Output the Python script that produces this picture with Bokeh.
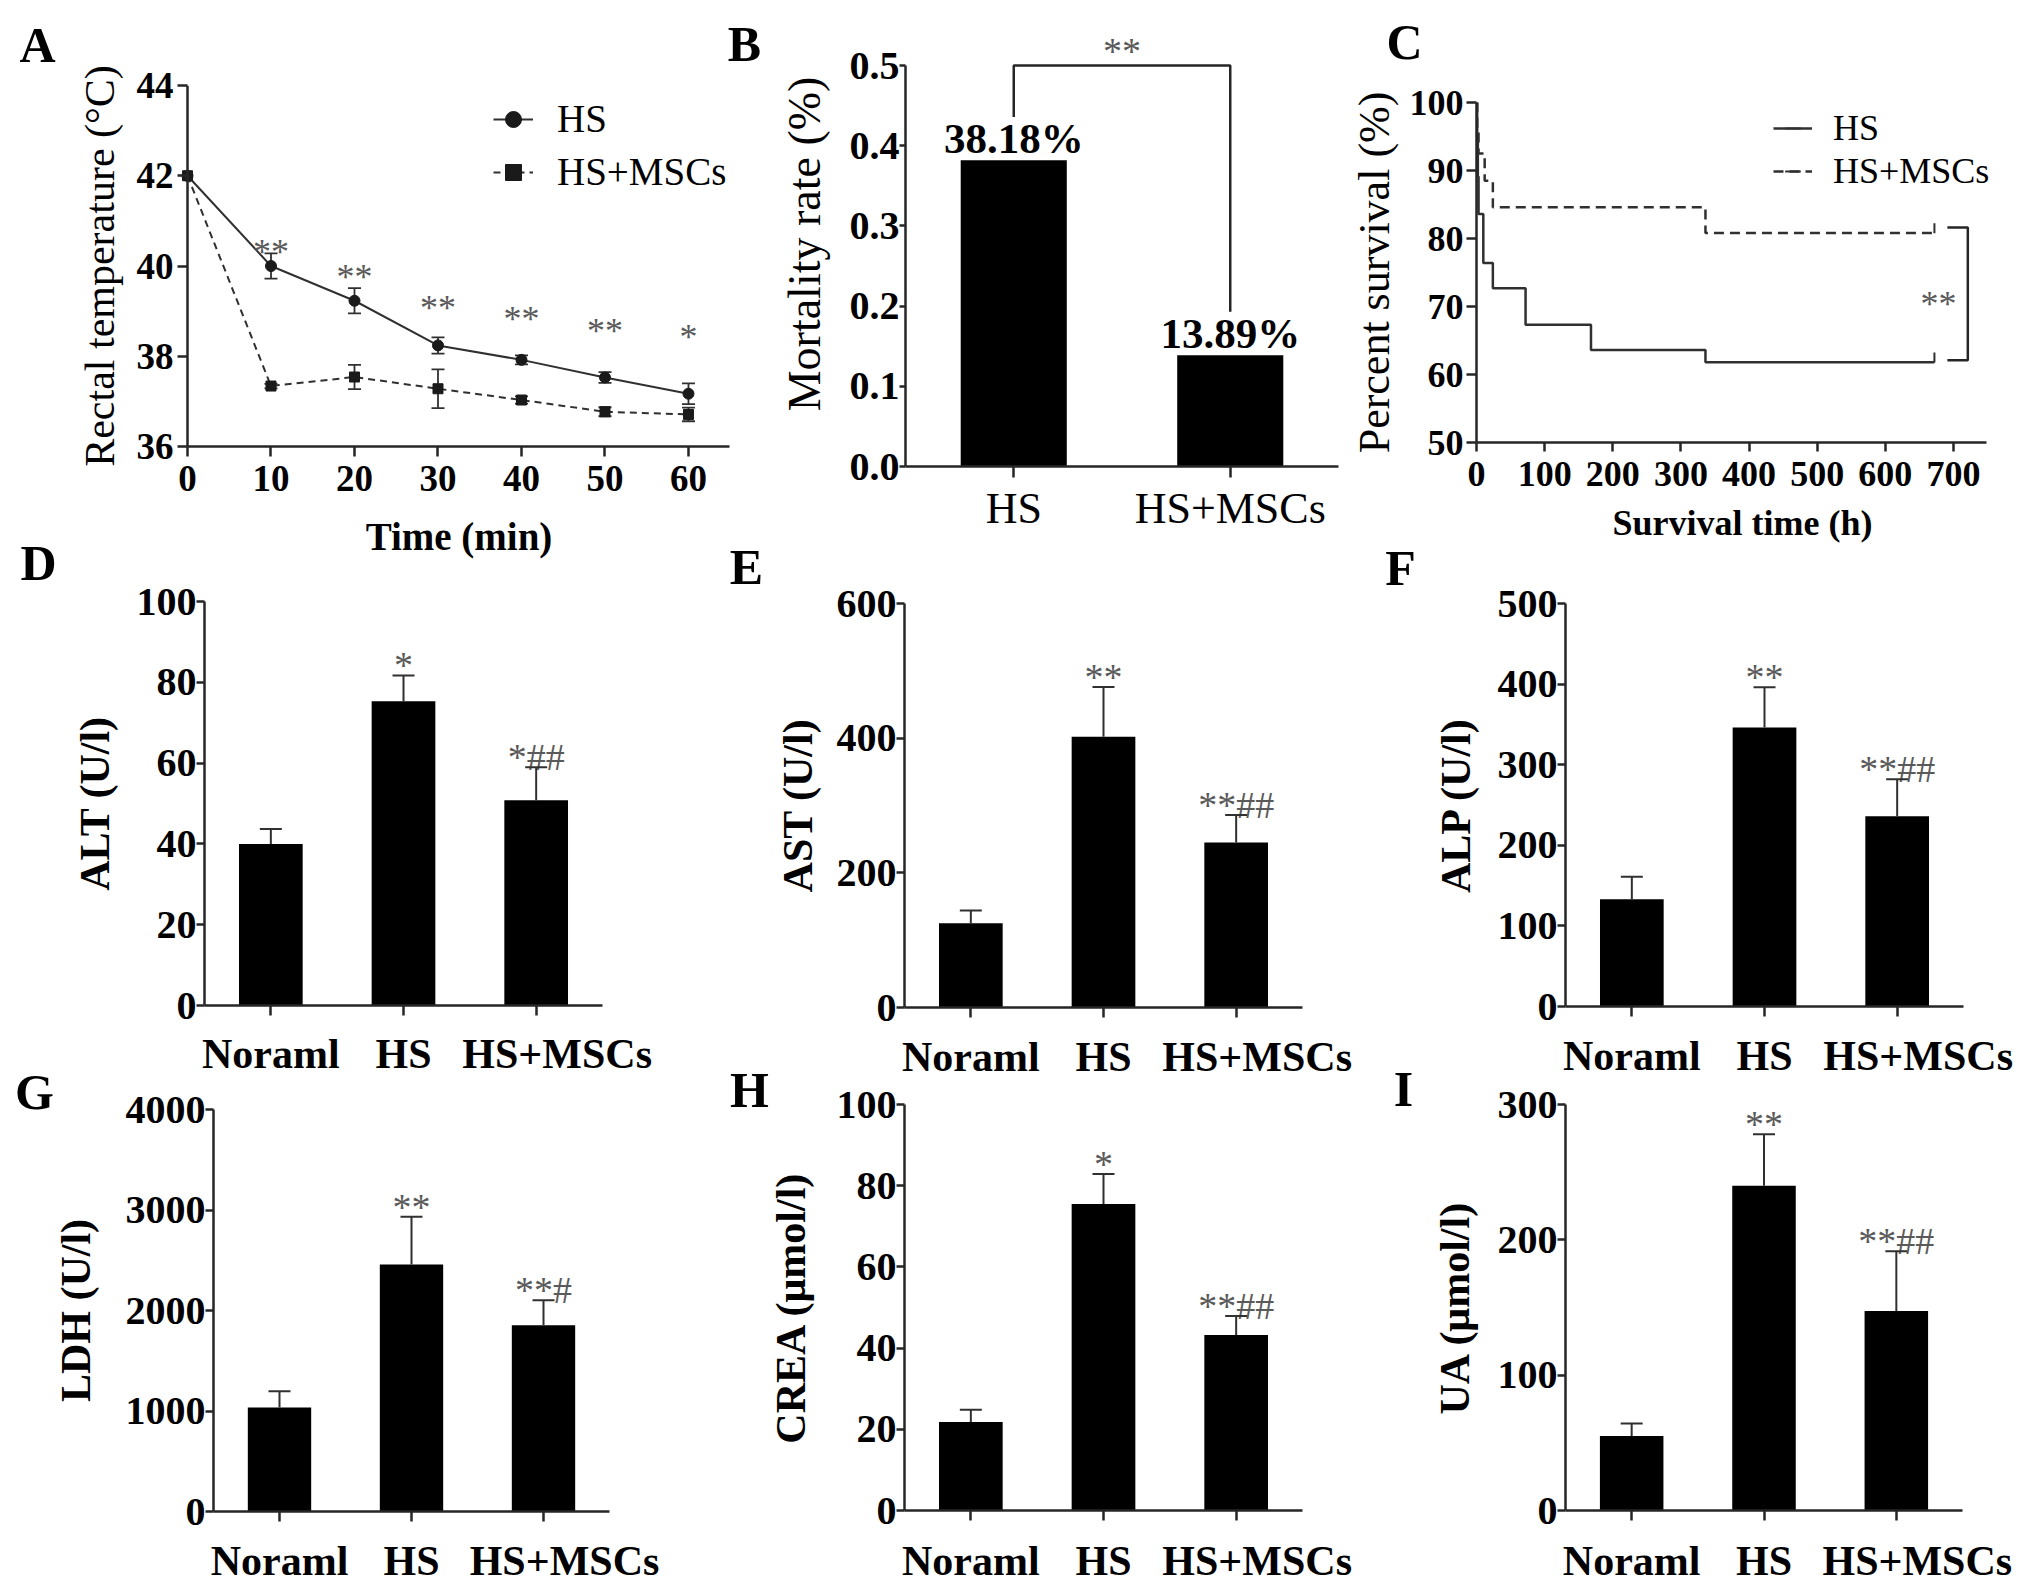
import math
from bokeh.plotting import figure
from bokeh.models import (ColumnDataSource, Whisker, TeeHead, FixedTicker,
                          Legend, LegendItem, Range1d, NumeralTickFormatter, Span)
from bokeh.embed import file_html
from bokeh.resources import INLINE
from bokeh.core.properties import value

FONT = "Liberation Serif"
AX = "#262626"
LINE = "#303030"
STAR = "#5a5a5a"

# ---------------- data ----------------
# A: rectal temperature
time_min = [0, 10, 20, 30, 40, 50, 60]
hs_temp = [42.0, 40.0, 39.23, 38.24, 37.92, 37.53, 37.17]
hs_temp_sem = [0.0, 0.28, 0.28, 0.18, 0.10, 0.12, 0.23]
msc_temp = [42.0, 37.34, 37.54, 37.28, 37.03, 36.77, 36.71]
msc_temp_sem = [0.0, 0.05, 0.27, 0.43, 0.08, 0.10, 0.15]
temp_sig_x = [10, 20, 30, 40, 50, 60]
temp_sig_y = [40.45, 39.9, 39.2, 38.95, 38.7, 38.55]
temp_sig = ["**", "**", "**", "**", "**", "*"]
temp_xticks = [0, 10, 20, 30, 40, 50, 60]
temp_yticks = [36, 38, 40, 42, 44]

# B: mortality
mort_groups = ["HS", "HS+MSCs"]
mort_rate = [0.3818, 0.1389]
mort_yticks = [0.0, 0.1, 0.2, 0.3, 0.4, 0.5]
mort_bracket_y = [0.436, 0.5, 0.5, 0.193]
mort_sig_y = 0.526

# C: survival
km_hs_t = [0, 1, 2, 3, 10, 24, 72, 168, 336, 672]
km_hs_s = [100, 94.5, 89.1, 83.6, 76.4, 72.7, 67.3, 63.6, 61.8, 61.8]
km_msc_t = [0, 1, 3, 12, 24, 336, 672]
km_msc_s = [100, 95.6, 92.5, 88.5, 84.6, 80.8, 80.8]
km_xticks = [0, 100, 200, 300, 400, 500, 600, 700]
km_yticks = [50, 60, 70, 80, 90, 100]
km_bracket_t = [691, 721, 721, 691]
km_bracket_s = [81.6, 81.6, 62.1, 62.1]
km_sig_pos = (678, 71.2)

# D-I: serum biochemistry
groups = ["Noraml", "HS", "HS+MSCs"]
alt_mean = [40.0, 75.3, 50.8]
alt_sem = [3.7, 6.4, 8.2]
alt_sig = ["", "*", "*##"]
ast_mean = [125, 402, 245]
ast_sem = [19, 74, 41]
ast_sig = ["", "**", "**##"]
alp_mean = [133, 346, 236]
alp_sem = [28, 50, 46]
alp_sig = ["", "**", "**##"]
ldh_mean = [1034, 2458, 1854]
ldh_sem = [163, 474, 248]
ldh_sig = ["", "**", "**#"]
crea_mean = [21.8, 75.5, 43.2]
crea_sem = [3.0, 7.4, 4.7]
crea_sig = ["", "*", "**##"]
ua_mean = [55, 240, 147.5]
ua_sem = [9.3, 38, 44]
ua_sig = ["", "**", "**##"]

panel_letters = ["A", "B", "C", "D", "E", "F", "G", "H", "I"]


# ---------------- helpers ----------------
def make_fig(frame, margins, xr, yr):
    fl, fr, ft, fb = frame
    L, R, T, B = margins
    p = figure(width=L + (fr - fl) + R, height=T + (fb - ft) + B,
               min_border_left=L, min_border_right=R, min_border_top=T, min_border_bottom=B,
               x_range=Range1d(*xr), y_range=Range1d(*yr),
               output_backend="svg", toolbar_location=None, title=None, tools="")
    p.styles = {"position": "absolute", "left": f"{fl - L}px", "top": f"{ft - T}px"}
    p.xgrid.visible = False
    p.ygrid.visible = False
    p.outline_line_color = None
    p.background_fill_color = None
    p.border_fill_color = None
    for ax in (p.xaxis[0], p.yaxis[0]):
        ax.axis_line_color = AX
        ax.axis_line_width = 2.5
        ax.major_tick_line_color = AX
        ax.major_tick_line_width = 2.5
        ax.major_tick_in = 0
        ax.minor_tick_line_color = None
        ax.major_label_text_font = FONT
        ax.axis_label_text_font = FONT
        ax.major_label_text_color = "black"
        ax.axis_label_text_color = "black"
        ax.major_label_text_font_style = "bold"
        ax.axis_label_text_font_style = "bold"
    return p


def star_text(p, x, y, text, size, yoff):
    p.text(x=x, y=y, text=text, text_align="center", text_baseline="middle",
           y_offset=yoff, text_font=value(FONT), text_font_size=size, text_color=STAR)


figs = []

# ---------------- Panel A ----------------
A_xr = (-1.198, 66.23)
pA = make_fig((177, 740, 85, 446), (170, 10, 80, 130), A_xr, (36, 44))
pA.xaxis.ticker = FixedTicker(ticks=temp_xticks)
pA.yaxis.ticker = FixedTicker(ticks=temp_yticks)
pA.xaxis.bounds = (temp_xticks[0], 64.9)
pA.yaxis.axis_line_color = None
pA.yaxis.major_tick_in = 10
pA.yaxis.major_tick_out = 0
pA.add_layout(Span(location=temp_xticks[0], dimension="height", line_color=AX, line_width=2.5))
pA.xaxis.major_tick_out = 10
pA.xaxis.major_label_text_font_size = "37px"
pA.yaxis.major_label_text_font_size = "37px"
pA.xaxis.major_label_standoff = 9
pA.yaxis.major_label_standoff = 4
pA.xaxis.axis_label = "Time (min)"
pA.xaxis.axis_label_text_font_size = "39px"
pA.xaxis.axis_label_standoff = 21
pA.yaxis.axis_label = "Rectal temperature (°C)"
pA.yaxis.axis_label_text_font_size = "42px"
pA.yaxis.axis_label_text_font_style = "normal"
pA.yaxis.axis_label_standoff = 11


def err_source(x, m, e):
    idx = [i for i, v in enumerate(e) if v > 0]
    return ColumnDataSource(dict(x=[x[i] for i in idx],
                                 upper=[m[i] + e[i] for i in idx],
                                 lower=[m[i] - e[i] for i in idx]))


for m, e in ((hs_temp, hs_temp_sem), (msc_temp, msc_temp_sem)):
    pA.add_layout(Whisker(source=err_source(time_min, m, e), base="x", upper="upper",
                          lower="lower", line_color=LINE, line_width=1.8,
                          upper_head=TeeHead(size=13, line_color=LINE, line_width=1.8),
                          lower_head=TeeHead(size=13, line_color=LINE, line_width=1.8)))

rA1 = pA.line(time_min, hs_temp, line_color=LINE, line_width=2)
rA2 = pA.scatter(time_min, hs_temp, marker="circle", size=11, color="#1a1a1a")
rA3 = pA.line(time_min, msc_temp, line_color=LINE, line_width=2, line_dash="7 5")
rA4 = pA.scatter(time_min, msc_temp, marker="square", size=10, color="#1a1a1a")
star_text(pA, temp_sig_x, temp_sig_y, temp_sig, "36px", 6)
pA.add_layout(Legend(items=[LegendItem(label="HS", renderers=[rA1, rA2]),
                            LegendItem(label="HS+MSCs", renderers=[rA3, rA4])],
                     location=(316, 252), glyph_width=40, glyph_height=40, label_height=40,
                     label_standoff=24, spacing=8, padding=0, margin=0,
                     border_line_color=None, background_fill_alpha=0,
                     label_text_font=FONT, label_text_font_size="39px",
                     label_text_color="black"))
figs.append(pA)

# ---------------- Panel B ----------------
pB = make_fig((905, 1338, 21, 466), (150, 10, 13, 90), (-0.5, 1.5), (0, 0.555))
bx = list(range(len(mort_groups)))
pB.vbar(x=bx, top=mort_rate, width=0.49, fill_color="black", line_color=None)
pB.text(x=bx, y=mort_rate, text=[f"{v * 100:.2f}%" for v in mort_rate],
        text_align="center", text_baseline="middle", y_offset=-22,
        text_font=value(FONT), text_font_size="43px", text_font_style="bold",
        text_color="black")
pB.line([bx[0], bx[0], bx[1], bx[1]], mort_bracket_y, line_color=AX, line_width=2.5)
star_text(pB, [(bx[0] + bx[1]) / 2], [mort_sig_y], ["**"], "38px", 6)
pB.yaxis.bounds = (mort_yticks[0], mort_yticks[-1])
pB.yaxis.ticker = FixedTicker(ticks=mort_yticks)
pB.yaxis.formatter = NumeralTickFormatter(format="0.0")
pB.yaxis.major_tick_out = 6
pB.yaxis.major_label_standoff = 0
pB.yaxis.major_label_text_font_size = "40px"
pB.yaxis.axis_label = "Mortality rate (%)"
pB.yaxis.axis_label_text_font_size = "46px"
pB.yaxis.axis_label_text_font_style = "normal"
pB.yaxis.axis_label_standoff = 17
pB.xaxis.ticker = FixedTicker(ticks=bx)
pB.xaxis.major_label_overrides = {i: g for i, g in zip(bx, mort_groups)}
pB.xaxis.major_tick_out = 11
pB.xaxis.major_label_standoff = 6
pB.xaxis.major_label_text_font_size = "44px"
pB.xaxis.major_label_text_font_style = "normal"
figs.append(pB)

# ---------------- Panel C ----------------
pC = make_fig((1476, 2008, 102, 442), (135, 10, 95, 110), (0, 780.7), (50, 100))
rC1 = pC.step(km_hs_t, km_hs_s, mode="after", line_color=LINE, line_width=2.5)
rC2 = pC.step(km_msc_t, km_msc_s, mode="after", line_color=LINE, line_width=2.5,
              line_dash="10 6")
rC1t = pC.scatter(x=[km_hs_t[-1]], y=[km_hs_s[-1] + 0.7], marker="dash", angle=math.pi / 2,
                  size=10, line_color=LINE, line_width=2)
rC2t = pC.scatter(x=[km_msc_t[-1]], y=[km_msc_s[-1] + 0.7], marker="dash", angle=math.pi / 2,
                  size=10, line_color=LINE, line_width=2)
pC.line(km_bracket_t, km_bracket_s, line_color=AX, line_width=2.5)
star_text(pC, [km_sig_pos[0]], [km_sig_pos[1]], ["**"], "36px", 6)
pC.xaxis.bounds = (0, 748.4)
pC.xaxis.ticker = FixedTicker(ticks=km_xticks)
pC.yaxis.ticker = FixedTicker(ticks=km_yticks)
pC.xaxis.major_tick_out = 9
pC.yaxis.major_tick_out = 10
pC.xaxis.major_label_standoff = 10
pC.yaxis.major_label_standoff = 3
pC.xaxis.major_label_text_font_size = "36px"
pC.yaxis.major_label_text_font_size = "36px"
pC.xaxis.axis_label = "Survival time (h)"
pC.xaxis.axis_label_text_font_size = "36px"
pC.xaxis.axis_label_standoff = 14
pC.yaxis.axis_label = "Percent survival (%)"
pC.yaxis.axis_label_text_font_size = "44px"
pC.yaxis.axis_label_text_font_style = "normal"
pC.yaxis.axis_label_standoff = 8
pC.add_layout(Legend(items=[LegendItem(label="HS", renderers=[rC1, rC1t]),
                            LegendItem(label="HS+MSCs", renderers=[rC2, rC2t])],
                     location=(297, 250), glyph_width=39, glyph_height=40, label_height=40,
                     label_standoff=21, spacing=1, padding=0, margin=0,
                     border_line_color=None, background_fill_alpha=0,
                     label_text_font=FONT, label_text_font_size="36px",
                     label_text_color="black"))
figs.append(pC)


# ---------------- Panels D-I ----------------
# the last category label sits a little right of its tick in the original figure
group_labels = [groups[0], groups[1], "\u00a0\u00a0\u00a0\u00a0" + groups[2]]


def bar_panel(frame, margins, means, sems, sigs, yticks, ylabel, xstand, ystand):
    p = make_fig(frame, margins, (-0.5, 2.5), (yticks[0], yticks[-1]))
    x = list(range(len(groups)))
    p.vbar(x=x, top=means, width=0.48, fill_color="black", line_color=None)
    src = ColumnDataSource(dict(x=x, upper=[m + e for m, e in zip(means, sems)], lower=means))
    p.add_layout(Whisker(source=src, base="x", upper="upper", lower="lower",
                         line_color=LINE, line_width=2,
                         upper_head=TeeHead(size=22, line_color=LINE, line_width=2),
                         lower_head=None, level="glyph"))
    keep = [i for i, s in enumerate(sigs) if s]
    star_text(p, [x[i] for i in keep], [means[i] + sems[i] for i in keep],
              [sigs[i] for i in keep], "38px", -10)
    p.yaxis.ticker = FixedTicker(ticks=yticks)
    p.xaxis.ticker = FixedTicker(ticks=x)
    p.xaxis.major_label_overrides = {i: g for i, g in zip(x, group_labels)}
    p.xaxis.major_tick_out = 10
    p.xaxis.major_label_standoff = xstand
    p.xaxis.major_label_text_font_size = "42px"
    p.yaxis.major_tick_out = 8
    p.yaxis.major_label_standoff = 0
    p.yaxis.major_label_text_font_size = "40px"
    p.yaxis.axis_label = ylabel
    p.yaxis.axis_label_text_font_size = "42px"
    p.yaxis.axis_label_standoff = ystand
    return p


figs.append(bar_panel((204, 602, 601, 1005), (200, 60, 50, 75), alt_mean, alt_sem, alt_sig,
                      [0, 20, 40, 60, 80, 100], "ALT (U/l)", 15, 16))
figs.append(bar_panel((904, 1302, 603, 1007), (200, 60, 50, 75), ast_mean, ast_sem, ast_sig,
                      [0, 200, 400, 600], "AST (U/l)", 16, 13))
figs.append(bar_panel((1565, 1963, 603, 1006), (200, 55, 50, 75), alp_mean, alp_sem, alp_sig,
                      [0, 100, 200, 300, 400, 500], "ALP (U/l)", 16, 16))
figs.append(bar_panel((213, 609, 1109, 1511), (200, 60, 40, 80), ldh_mean, ldh_sem, ldh_sig,
                      [0, 1000, 2000, 3000, 4000], "LDH (U/l)", 16, 24))
figs.append(bar_panel((904, 1302, 1104, 1510), (200, 60, 40, 80), crea_mean, crea_sem, crea_sig,
                      [0, 20, 40, 60, 80, 100], "CREA (μmol/l)", 17, 20))
figs.append(bar_panel((1565, 1962, 1104, 1510), (200, 55, 40, 80), ua_mean, ua_sem, ua_sig,
                      [0, 100, 200, 300], "UA (μmol/l)", 17, 17))

# ---------------- panel letters (transparent overlay) ----------------
letter_x = [37, 744, 1404, 38, 746, 1400, 34, 749, 1403]
letter_y = [44, 43, 41, 562, 566, 567, 1091, 1089, 1088]
ov = figure(width=1460, height=1120, x_range=Range1d(0, 1460), y_range=Range1d(1120, 0),
            min_border=0, x_axis_type=None, y_axis_type=None, output_backend="svg",
            toolbar_location=None, title=None, tools="")
ov.styles = {"position": "absolute", "left": "0px", "top": "0px"}
ov.xgrid.visible = False
ov.ygrid.visible = False
ov.outline_line_color = None
ov.background_fill_color = None
ov.border_fill_color = None
ov.text(x=letter_x, y=letter_y, text=panel_letters, text_align="center",
        text_baseline="middle", text_font=value(FONT), text_font_size="50px",
        text_font_style="bold", text_color="black")
figs.append(ov)

open("out.html", "w").write(file_html(figs, INLINE))
